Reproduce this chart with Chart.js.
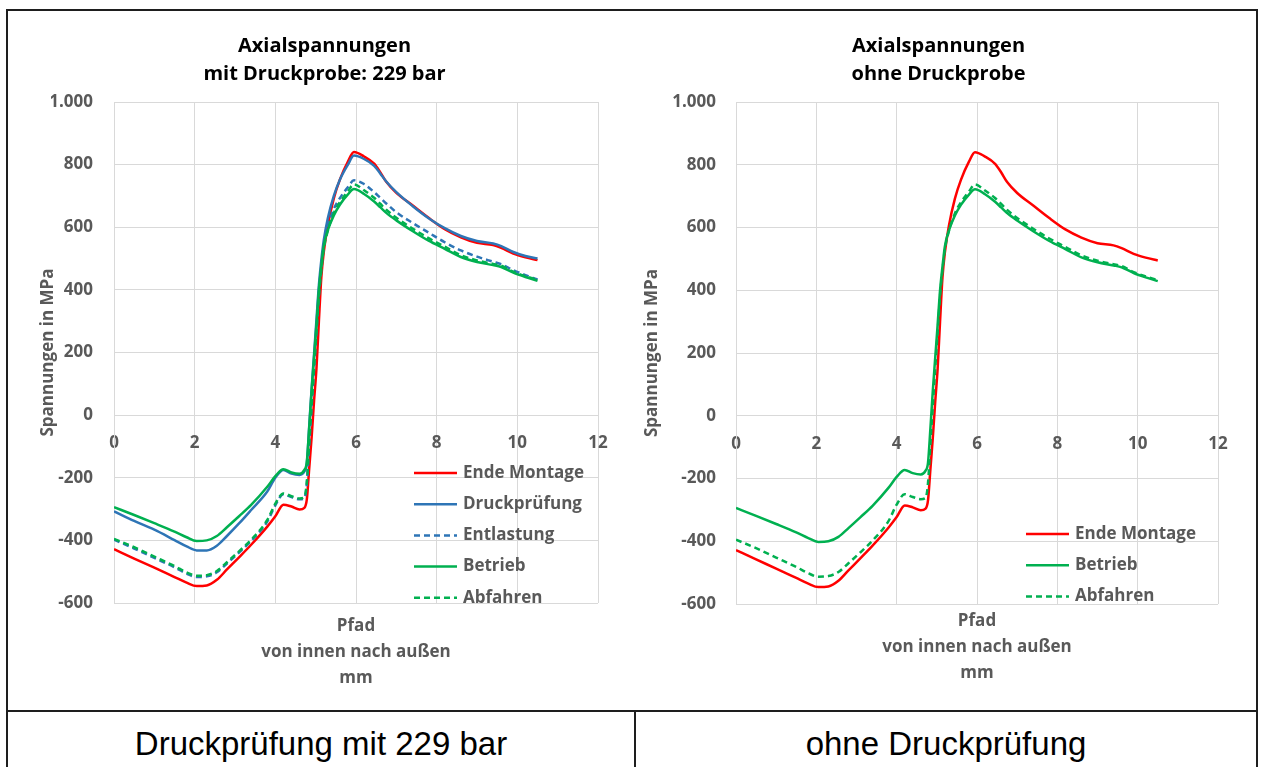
<!DOCTYPE html>
<html lang="de">
<head>
<meta charset="utf-8">
<title>Axialspannungen</title>
<script src="https://cdn.jsdelivr.net/npm/chart.js@4.4.1/dist/chart.umd.min.js"></script>
<style>
    html, body { margin: 0; padding: 0; background: #fff; }
    body { width: 1262px; height: 767px; position: relative; overflow: hidden; }
    .frame { position: absolute; left: 6px; top: 9px; width: 1248px; height: 800px; border: 2px solid #1e1e1e; }
    .hline { position: absolute; left: 6px; top: 710px; width: 1252px; height: 2px; background: #1e1e1e; }
    .vline { position: absolute; left: 634px; top: 710px; width: 2px; height: 60px; background: #1e1e1e; }
    canvas { position: absolute; top: 11px; }
    #chart-left { left: 8px; }
    #chart-right { left: 636px; }
    .caption { position: absolute; top: 725px; height: 36px; line-height: 36px; font: 33px "Liberation Sans", Arial, sans-serif; color: #000; text-align: center; }
</style>
</head>
<body>
<div class="frame"></div>
<div class="hline"></div>
<div class="vline"></div>
<canvas id="chart-left" width="625" height="698"></canvas>
<canvas id="chart-right" width="620" height="698"></canvas>
<div class="caption" style="left:8px; width:626px;">Druckprüfung mit 229 bar</div>
<div class="caption" style="left:636px; width:620px;">ohne Druckprüfung</div>

<script>
// Path positions (mm, inside to outside)
const pfad = [0, 0.5, 1, 1.5, 1.8, 2.05, 2.3, 2.55, 2.8, 3.1, 3.4, 3.8, 4, 4.2, 4.4, 4.6, 4.72, 4.78, 4.84, 4.9,
    4.96, 5.02, 5.08, 5.14, 5.2, 5.3, 5.45, 5.6, 5.8, 5.95, 6.2, 6.45, 6.6, 6.75, 7, 7.4, 7.8, 8.2, 8.6, 9, 9.4, 9.6,
    9.9, 10.2, 10.5];

// Axial stresses in MPa
const endeMontage = [-428, -458, -487, -517, -535, -546, -544, -526, -493, -454, -414, -356, -323, -286, -292, -301,
    -296, -270, -170, -70, 45, 150, 300, 440, 520, 605, 692, 752, 810, 840, 826, 803, 776, 745, 710, 670, 630, 594,
    568, 550, 543, 534, 516, 504, 495];
const druckpruefung = [-307, -338, -366, -399, -419, -432, -432, -417, -386, -346, -303, -244, -200, -175, -187, -191,
    -180, -155, -35, 85, 195, 305, 415, 495, 558, 628, 700, 752, 800, 829, 818, 796, 772, 746, 712, 668, 629, 597,
    572, 556, 548, 540, 521, 508, 500];
const entlastung = [-398, -426, -456, -486, -506, -517, -515, -502, -474, -439, -402, -340, -288, -253, -262, -269,
    -265, -220, -92, 30, 150, 268, 385, 470, 540, 600, 658, 693, 728, 750, 738, 712, 694, 676, 648, 614, 583, 552,
    526, 506, 490, 482, 463, 447, 433];
const betrieb = [-294, -319, -345, -372, -390, -402, -400, -386, -358, -323, -287, -229, -195, -173, -183, -187,
    -175, -150, -40, 80, 185, 290, 400, 475, 540, 590, 638, 672, 705, 722, 706, 682, 664, 646, 622, 588, 557, 531,
    505, 489, 479, 473, 455, 441, 429];
const abfahren = [-395, -422, -452, -482, -502, -513, -511, -498, -470, -435, -398, -335, -283, -250, -259, -266,
    -262, -215, -90, 30, 150, 265, 380, 462, 530, 588, 645, 680, 715, 737, 718, 694, 675, 656, 630, 596, 565, 538,
    511, 494, 483, 477, 458, 444, 432];

// Tick labels
const xTicks = [0, 2, 4, 6, 8, 10, 12];
const xTickLabels = ['0', '2', '4', '6', '8', '10', '12'];
const yTicks = [-600, -400, -200, 0, 200, 400, 600, 800, 1000];
const yTickLabels = ['-600', '-400', '-200', '0', '200', '400', '600', '800', '1.000'];

const GRAY = '#595959';
const GRID = '#d9d9d9';
Chart.defaults.font.family = '"Open Sans", sans-serif';

// Legend drawn inside the plot area (lower right)
const innerLegend = {
    id: 'innerLegend',
    afterDraw(chart, args, opts) {
        const ctx = chart.ctx;
        ctx.save();
        ctx.font = 'bold 17px "Open Sans", sans-serif';
        ctx.textBaseline = 'middle';
        chart.data.datasets.forEach((ds, i) => {
            const y = opts.y + i * 31.2;
            ctx.strokeStyle = ds.borderColor;
            ctx.lineWidth = 2.5;
            ctx.setLineDash(ds.borderDash);
            ctx.beginPath();
            ctx.moveTo(opts.x, y);
            ctx.lineTo(opts.x + 43, y);
            ctx.stroke();
            ctx.setLineDash([]);
            ctx.fillStyle = GRAY;
            ctx.fillText(ds.label, opts.x + 49, y);
        });
        ctx.restore();
    }
};

function makeChart(id, title, series, cfg) {
    const tickFont = { size: 17, weight: 'bold' };
    return new Chart(document.getElementById(id), {
        type: 'line',
        data: {
            datasets: series.map((s, i) => ({
                label: s.label,
                data: pfad.map((x, k) => ({ x: x, y: s.values[k] })),
                borderColor: s.color,
                borderWidth: 2.5,
                borderDash: s.dashed ? [6, 4] : [],
                pointRadius: 0,
                cubicInterpolationMode: 'monotone',
                fill: false,
                order: series.length - i
            }))
        },
        options: {
            responsive: false,
            animation: false,
            layout: { padding: { left: cfg.padLeft, right: cfg.padRight, top: 0, bottom: 0 } },
            plugins: {
                legend: { display: false },
                tooltip: { enabled: false },
                title: {
                    display: true,
                    text: title,
                    color: '#000',
                    font: { size: 20, weight: 'bold', lineHeight: 1.4 },
                    padding: { top: 21, bottom: 14 }
                },
                innerLegend: { x: cfg.legendX, y: cfg.legendY }
            },
            scales: {
                x: {
                    type: 'linear',
                    position: { y: 0 },
                    min: 0,
                    max: 12,
                    afterBuildTicks: scale => { scale.ticks = xTicks.map(v => ({ value: v })); },
                    ticks: {
                        padding: 18,
                        color: GRAY,
                        font: tickFont,
                        callback: v => xTickLabels[xTicks.indexOf(v)]
                    },
                    grid: { color: GRID, drawTicks: false },
                    border: { color: GRID },
                    afterFit: scale => { scale.height = 0; }
                },
                xt: {
                    type: 'linear',
                    position: 'bottom',
                    min: 0,
                    max: 12,
                    ticks: { display: false },
                    grid: { display: false },
                    border: { display: false },
                    title: {
                        display: true,
                        text: ['Pfad', 'von innen nach außen', 'mm'],
                        color: GRAY,
                        font: { size: 17, weight: 'bold', lineHeight: 26 / 17 },
                        padding: { top: 0, bottom: cfg.xTitlePad }
                    },
                    afterFit: scale => { scale.height = cfg.bottomHeight; }
                },
                y: {
                    type: 'linear',
                    position: 'left',
                    min: -600,
                    max: 1000,
                    afterBuildTicks: scale => { scale.ticks = yTicks.map(v => ({ value: v })); },
                    ticks: {
                        padding: cfg.yTickPad,
                        color: GRAY,
                        font: tickFont,
                        callback: v => yTickLabels[yTicks.indexOf(v)]
                    },
                    grid: { color: GRID, drawTicks: false },
                    border: { color: GRID },
                    title: {
                        display: true,
                        text: 'Spannungen in MPa',
                        color: GRAY,
                        font: { size: 17, weight: 'bold', lineHeight: 1.2 },
                        padding: { top: cfg.yTitlePad, bottom: 0 }
                    },
                    afterFit: scale => { scale.width = cfg.yWidth; }
                }
            }
        },
        plugins: [innerLegend]
    });
}

// Left: with pressure test
makeChart('chart-left', ['Axialspannungen', 'mit Druckprobe: 229 bar'], [
    { label: 'Ende Montage', values: endeMontage, color: '#ff0000' },
    { label: 'Druckprüfung', values: druckpruefung, color: '#2e75b6' },
    { label: 'Entlastung', values: entlastung, color: '#2e75b6', dashed: true },
    { label: 'Betrieb', values: betrieb, color: '#00b050' },
    { label: 'Abfahren', values: abfahren, color: '#00b050', dashed: true }
], { padLeft: 43, padRight: 35, yWidth: 63, yTickPad: 21, yTitlePad: -13, bottomHeight: 106, xTitlePad: 18, legendX: 406, legendY: 462 });

// Right: without pressure test
makeChart('chart-right', ['Axialspannungen', 'ohne Druckprobe'], [
    { label: 'Ende Montage', values: endeMontage, color: '#ff0000' },
    { label: 'Betrieb', values: betrieb, color: '#00b050' },
    { label: 'Abfahren', values: abfahren, color: '#00b050', dashed: true }
], { padLeft: 23, padRight: 38, yWidth: 77, yTickPad: 20, yTitlePad: -17, bottomHeight: 105, xTitlePad: 23, legendX: 390, legendY: 523 });
</script>
</body>
</html>
